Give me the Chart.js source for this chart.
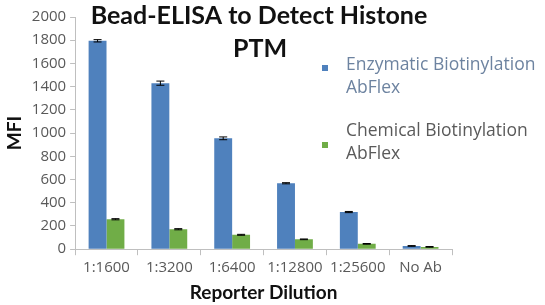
<!DOCTYPE html>
<html lang="en">
<head>
    <meta charset="UTF-8">
    <title>Bead-ELISA to Detect Histone PTM</title>
    <style>
        body { margin: 0; padding: 0; background: #ffffff; }
        .chart-container { position: relative; width: 545px; height: 305px; }
    </style>
</head>
<body>
    <div class="chart-container">
        <canvas id="elisaChart" width="545" height="305"></canvas>
    </div>

    <script src="https://cdn.jsdelivr.net/npm/chart.js"></script>
    <script>
        // data
        const dilutions = ['1:1600', '1:3200', '1:6400', '1:12800', '1:25600', 'No Ab'];
        const enzymaticValues = [1795, 1430, 955, 568, 320, 28];
        const enzymaticErrors = [10, 18, 12, 5, 5, 3];
        const chemicalValues = [258, 172, 124, 85, 46, 20];
        const chemicalErrors = [5, 5, 4, 3, 3, 3];
        const yTicks = [0, 200, 400, 600, 800, 1000, 1200, 1400, 1600, 1800, 2000];
        const titleLines = ['Bead-ELISA to Detect Histone', 'PTM'];
        const legendLines = [['Enzymatic Biotinylation', 'AbFlex'], ['Chemical Biotinylation', 'AbFlex']];

        const blue = '#4f81bd';
        const green = '#70ad47';
        const axisColor = '#bfbfbf';

        // small black error bars with caps
        const errorBars = {
            id: 'errorBars',
            afterDatasetsDraw(chart) {
                const ctx = chart.ctx;
                const yScale = chart.scales.y;
                ctx.save();
                ctx.strokeStyle = '#000000';
                ctx.lineWidth = 1;
                chart.data.datasets.forEach((ds, i) => {
                    const meta = chart.getDatasetMeta(i);
                    meta.data.forEach((bar, j) => {
                        const v = ds.data[j];
                        const e = ds.errors[j];
                        const yTop = yScale.getPixelForValue(v + e);
                        const yBot = yScale.getPixelForValue(v - e);
                        ctx.beginPath();
                        ctx.moveTo(bar.x, yTop);
                        ctx.lineTo(bar.x, yBot);
                        ctx.moveTo(bar.x - 4, yTop);
                        ctx.lineTo(bar.x + 4, yTop);
                        ctx.moveTo(bar.x - 4, yBot);
                        ctx.lineTo(bar.x + 4, yBot);
                        ctx.stroke();
                    });
                });
                ctx.restore();
            }
        };

        // title sitting over the plot and the two-line legend at the right
        const overlayText = {
            id: 'overlayText',
            afterDraw(chart) {
                const ctx = chart.ctx;
                ctx.save();
                ctx.fillStyle = '#111111';
                ctx.font = 'bold 25px Lato, sans-serif';
                ctx.textAlign = 'center';
                ctx.textBaseline = 'middle';
                ctx.fillText(titleLines[0], 259, 16);
                ctx.fillText(titleLines[1], 260, 49);

                const colors = [blue, green];
                const textColors = ['#6d83a0', '#5a5a5a'];
                const tops = [65, 131];
                const squareY = [68, 145];
                ctx.textAlign = 'left';
                ctx.font = '17.5px "Open Sans", sans-serif';
                legendLines.forEach((lines, i) => {
                    ctx.fillStyle = colors[i];
                    ctx.fillRect(322, squareY[i] - 3, 6, 6);
                    ctx.fillStyle = textColors[i];
                    lines.forEach((t, k) => ctx.fillText(t, 346, tops[i] + k * 23));
                });
                ctx.restore();
            }
        };

        new Chart(document.getElementById('elisaChart').getContext('2d'), {
            type: 'bar',
            data: {
                labels: dilutions,
                datasets: [{
                    label: legendLines[0].join(' '),
                    data: enzymaticValues,
                    errors: enzymaticErrors,
                    backgroundColor: blue
                }, {
                    label: legendLines[1].join(' '),
                    data: chemicalValues,
                    errors: chemicalErrors,
                    backgroundColor: green
                }]
            },
            options: {
                responsive: false,
                animation: false,
                devicePixelRatio: 1,
                layout: { padding: { top: 17, right: 93, left: 3, bottom: 1 } },
                datasets: { bar: { categoryPercentage: 0.57, barPercentage: 1 } },
                plugins: {
                    legend: { display: false },
                    tooltip: { enabled: false }
                },
                scales: {
                    x: {
                        grid: { drawOnChartArea: false, color: axisColor, tickLength: 6, offset: true },
                        border: { color: axisColor },
                        ticks: { color: '#595959', font: { family: 'Open Sans', size: 15 }, padding: 4, maxRotation: 0 },
                        title: {
                            display: true,
                            text: 'Reporter Dilution',
                            color: '#111111',
                            font: { family: 'Lato', size: 19, weight: 'bold' },
                            padding: { top: 0, bottom: 0 }
                        }
                    },
                    y: {
                        min: 0,
                        max: 2000,
                        afterBuildTicks: axis => { axis.ticks = yTicks.map(v => ({ value: v })); },
                        grid: { drawOnChartArea: false, color: axisColor, tickLength: 5 },
                        border: { color: axisColor },
                        ticks: {
                            color: '#595959',
                            font: { family: 'Open Sans', size: 15 },
                            padding: 4,
                            callback: v => String(v)
                        },
                        title: {
                            display: true,
                            text: 'MFI',
                            color: '#111111',
                            font: { family: 'Lato', size: 19, weight: 'bold' },
                            padding: { top: 0, bottom: 2 }
                        }
                    }
                }
            },
            plugins: [errorBars, overlayText]
        });
    </script>
</body>
</html>
